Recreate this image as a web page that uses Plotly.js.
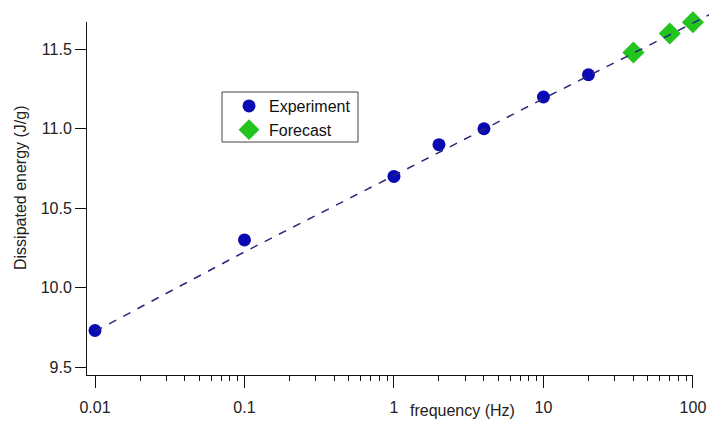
<!DOCTYPE html>
<html>
<head>
<meta charset="utf-8">
<script src="https://cdn.plot.ly/plotly-3.0.1.min.js"></script>
<style>html,body{margin:0;padding:0;background:#fff}#chart{width:709px;height:421px}</style>
</head>
<body>
<div id="chart"></div>
<script>
const expFreq = [0.01, 0.1, 1, 2, 4, 10, 20];
const expEnergy = [9.73, 10.30, 10.70, 10.90, 11.00, 11.20, 11.34];
const fcFreq = [40, 70, 100];
const fcEnergy = [11.48, 11.60, 11.67];
const fitFreq = [0.01, 0.1, 1, 10, 100, 130];
const fitEnergy = [9.725, 10.225, 10.705, 11.19, 11.665, 11.72];
const xTickVals = [0.01, 0.1, 1, 10, 100];
const xTickText = ['0.01', '0.1', '1', '10', '100'];
const xMinorVals = [0.02, 0.03, 0.04, 0.05, 0.06, 0.07, 0.08, 0.09,
                    0.2, 0.3, 0.4, 0.5, 0.6, 0.7, 0.8, 0.9,
                    2, 3, 4, 5, 6, 7, 8, 9,
                    20, 30, 40, 50, 60, 70, 80, 90];
const yTickVals = [9.5, 10.0, 10.5, 11.0, 11.5];
const yTickText = ['9.5', '10.0', '10.5', '11.0', '11.5'];

const font = {family: 'Liberation Sans, Arial, sans-serif', size: 16, color: '#222'};

// page geometry (pixels)
const W = 709, H = 421, L = 87, R = 0, T = 8, B = 46;
const plotRight = 693, plotTop = 22;   // main axes box
const pw = W - L - R, ph = H - T - B;
const px = v => (v - L) / pw;            // pixel -> paper x
const py = v => (H - B - v) / ph;        // pixel -> paper y
const xDom = [0, px(plotRight)];
const yDom = [0, py(plotTop)];
const xRange = [-2.0535, 2.0005];
const yRange = [9.45, 11.672];
// overlay axes covering the whole paper, same scale, so the fit line can run past the box
const xScale = (xRange[1] - xRange[0]) / (plotRight - L);
const yScale = (yRange[1] - yRange[0]) / (H - B - plotTop);
const x2Range = [xRange[0], xRange[0] + pw * xScale];
const y2Range = [yRange[0], yRange[0] + ph * yScale];

const traces = [
  {x: expFreq, y: expEnergy, mode: 'markers', name: 'Experiment',
   marker: {symbol: 'circle', size: 13, color: '#0a0ab4'}},
  {x: fcFreq, y: fcEnergy, mode: 'markers', name: 'Forecast', cliponaxis: false,
   marker: {symbol: 'diamond', size: 17, color: '#22c41e'}},
  {x: fitFreq, y: fitEnergy, xaxis: 'x2', yaxis: 'y2', mode: 'lines', showlegend: false, hoverinfo: 'skip',
   line: {color: '#2a2a7a', width: 1.5, dash: '8px,8px'}}
];

const layout = {
  width: W, height: H,
  margin: {l: L, r: R, t: T, b: B},
  paper_bgcolor: '#fff', plot_bgcolor: 'rgba(0,0,0,0)',
  font: font,
  showlegend: true,
  legend: {x: px(229), y: py(89), xanchor: 'left', yanchor: 'top',
    borderwidth: 0, bgcolor: 'rgba(0,0,0,0)',
    font: {family: 'Liberation Sans, Arial, sans-serif', size: 16, color: '#111'},
    tracegroupgap: 0},
  shapes: [
    {type: 'rect', xref: 'paper', yref: 'paper', x0: px(222), x1: px(358), y0: py(92), y1: py(142),
     line: {color: '#444', width: 1}, fillcolor: '#fff', layer: 'below'}
  ],
  xaxis: {type: 'log', domain: xDom, range: xRange, showgrid: false, zeroline: false,
    showline: true, linecolor: '#111', linewidth: 1,
    tickmode: 'array', tickvals: xTickVals, ticktext: xTickText,
    ticks: 'outside', ticklen: 12, tickcolor: '#111', tickwidth: 1,
    ticklabelstandoff: 6, tickfont: font},
  yaxis: {domain: yDom, range: yRange, showgrid: false, zeroline: false,
    showline: true, linecolor: '#111', linewidth: 1,
    tickmode: 'array', tickvals: yTickVals, ticktext: yTickText,
    ticks: 'outside', ticklen: 11, tickcolor: '#111', tickwidth: 1,
    tickfont: font},
  xaxis2: {type: 'log', domain: [0, 1], range: x2Range, anchor: 'y2', showgrid: false, zeroline: false,
    showline: false, showticklabels: false, tickmode: 'array', tickvals: xMinorVals,
    ticks: 'outside', ticklen: 5, tickcolor: '#111', tickwidth: 1},
  yaxis2: {domain: [0, 1], range: y2Range, anchor: 'x2', visible: false, showgrid: false, zeroline: false},
  annotations: [
    {text: 'frequency (Hz)', xref: 'paper', yref: 'paper', x: px(462), y: py(410),
     xanchor: 'center', yanchor: 'middle', showarrow: false, font: font},
    {text: 'Dissipated energy (J/g)', xref: 'paper', yref: 'paper', x: px(20), y: py(188),
     xanchor: 'center', yanchor: 'middle', textangle: -90, showarrow: false, font: font}
  ]
};

Plotly.newPlot('chart', traces, layout, {displayModeBar: false, staticPlot: true});
</script>
</body>
</html>
